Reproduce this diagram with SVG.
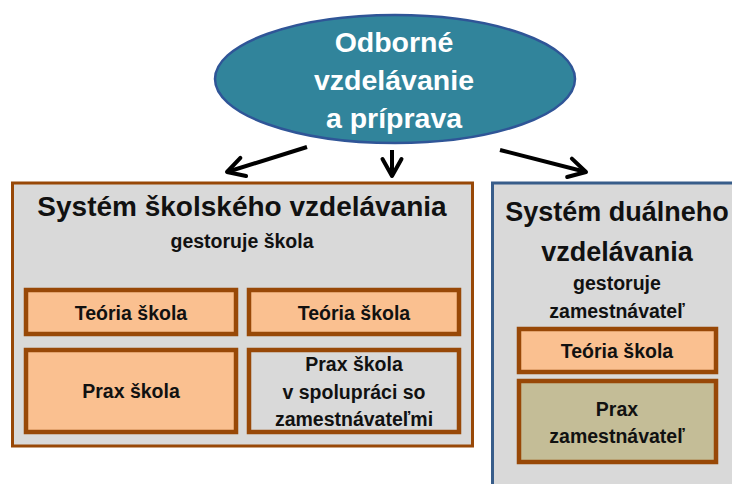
<svg xmlns="http://www.w3.org/2000/svg" width="732" height="484" viewBox="0 0 732 484">
<defs>
<style>
.t{font-family:"Liberation Sans",Arial,sans-serif;font-weight:bold;text-anchor:middle;fill:#111}
.big{font-size:28px}
.mid{font-size:19.5px}
.w{fill:#fff;font-size:28.5px}
.outer{fill:#d9d9d9;stroke-width:3}
.inner{stroke:#984807;stroke-width:4.5}
.conn{stroke:#000;stroke-width:4;fill:none;marker-end:url(#ah)}
</style>
<marker id="ah" viewBox="-3 -3 26 26" refX="19" refY="10" markerWidth="26" markerHeight="26" markerUnits="userSpaceOnUse" orient="auto" overflow="visible">
<path d="M2,0.5 L19,10 L2,19.5" fill="none" stroke="#000" stroke-width="4" stroke-linecap="round" stroke-linejoin="round"/>
</marker>
</defs>
<rect width="732" height="484" fill="#fff"/>
<g id="root">
<ellipse cx="395" cy="79" rx="180" ry="64" fill="#31849b" stroke="#2f5597" stroke-width="2.5"/>
<text class="t w" x="394" y="52">Odborné</text>
<text class="t w" x="394" y="90">vzdelávanie</text>
<text class="t w" x="394" y="128">a príprava</text>
</g>
<g id="connectors">
<line class="conn" x1="307" y1="147" x2="227" y2="172"/>
<line class="conn" x1="392" y1="150" x2="392" y2="176"/>
<line class="conn" x1="500" y1="150" x2="586" y2="172"/>
</g>
<g id="school">
<rect class="outer" x="12.5" y="183" width="460" height="263" stroke="#984807"/>
<text class="t big" x="242" y="216">Systém školského vzdelávania</text>
<text class="t mid" x="242" y="248">gestoruje škola</text>
</g>
<g id="school-theory1">
<rect class="inner" x="26" y="290" width="210" height="44" fill="#fac090"/>
<text class="t mid" x="131" y="320">Teória škola</text>
</g>
<g id="school-theory2">
<rect class="inner" x="249" y="290" width="210" height="44" fill="#fac090"/>
<text class="t mid" x="354" y="320">Teória škola</text>
</g>
<g id="school-practice">
<rect class="inner" x="26" y="350" width="210" height="82" fill="#fac090"/>
<text class="t mid" x="131" y="398">Prax škola</text>
</g>
<g id="school-practice-coop">
<rect class="inner" x="249" y="350" width="210" height="82" fill="#d9d9d9"/>
<text class="t mid" x="354" y="371">Prax škola</text>
<text class="t mid" x="354" y="399">v spolupráci so</text>
<text class="t mid" x="354" y="426">zamestnávateľmi</text>
</g>
<g id="dual">
<rect class="outer" x="492.5" y="183" width="250" height="310" stroke="#385d8a"/>
<text class="t" style="font-size:27px" x="617" y="221">Systém duálneho</text>
<text class="t" style="font-size:27px" x="617" y="261">vzdelávania</text>
<text class="t mid" x="617" y="290">gestoruje</text>
<text class="t mid" x="617" y="318">zamestnávateľ</text>
</g>
<g id="dual-theory">
<rect class="inner" x="519" y="329" width="197" height="43" fill="#fac090"/>
<text class="t mid" x="617" y="358">Teória škola</text>
</g>
<g id="dual-practice">
<rect class="inner" x="519" y="381" width="197" height="81" fill="#c4bd97"/>
<text class="t mid" x="617" y="416">Prax</text>
<text class="t mid" x="617" y="443">zamestnávateľ</text>
</g>
</svg>
